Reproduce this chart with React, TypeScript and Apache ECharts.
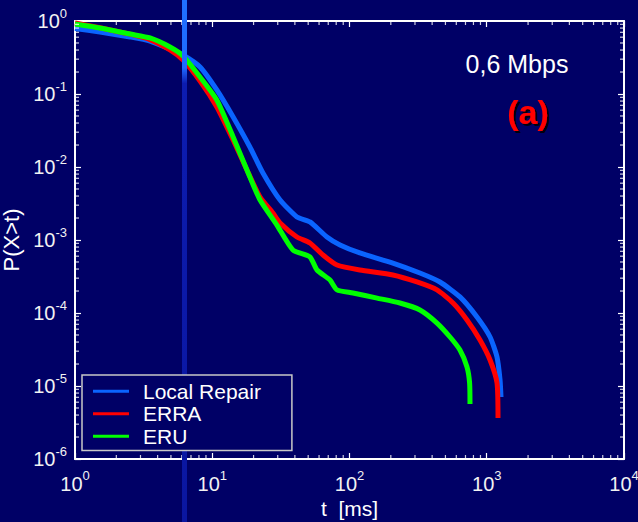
import React, { useEffect, useRef } from "react";
import * as echarts from "echarts";

// ---- Data (t in ms, P(X>t)) ----
const LOCAL_REPAIR_T = [1, 1.52, 2.52, 3.52, 4.92, 6.12, 8.15, 10.8, 14.2, 18.8, 23.4, 31.2, 41.4, 51.5, 68.5, 85.3, 119, 207, 326, 456, 638, 849, 1057, 1188, 1250, 1270];
const LOCAL_REPAIR_P = [0.79, 0.707, 0.604, 0.532, 0.413, 0.342, 0.234, 0.1135, 0.0484, 0.0188, 0.00828, 0.00353, 0.00207, 0.00177, 0.0011, 0.000855, 0.000664, 0.000484, 0.000353, 0.000266, 0.000166, 0.0000881, 0.0000469, 0.0000249, 0.0000121, 0.00000707];

const ERRA_T = [1, 1.52, 2.52, 3.52, 4.92, 6.12, 8.15, 10.8, 14.2, 17.9, 22.3, 27.7, 31.2, 41.4, 51.5, 64.1, 81.1, 119, 207, 310, 434, 568, 718, 893, 1057, 1188, 1208];
const ERRA_P = [0.94, 0.81, 0.66, 0.556, 0.401, 0.292, 0.151, 0.0664, 0.0234, 0.0091, 0.00388, 0.00234, 0.00171, 0.0011, 0.00091, 0.000623, 0.000455, 0.000388, 0.000332, 0.000266, 0.000207, 0.000137, 0.0000802, 0.0000427, 0.0000227, 0.000011, 0.00000365];

const ERU_T = [1, 1.52, 2.52, 3.52, 4.92, 6.12, 8.15, 10.8, 14.2, 18.8, 22.3, 29.6, 38.7, 51.5, 58, 72.1, 81.1, 106, 159, 233, 326, 434, 540, 638, 718, 750, 755];
const ERU_P = [0.91, 0.802, 0.663, 0.585, 0.44, 0.332, 0.171, 0.0828, 0.0258, 0.0073, 0.00353, 0.0016, 0.00073, 0.000585, 0.000388, 0.000283, 0.000207, 0.000188, 0.00016, 0.000137, 0.00011, 0.0000729, 0.0000469, 0.0000311, 0.0000182, 0.000011, 0.00000566];

const SERIES_NAMES = ["Local Repair", "ERRA", "ERU"];

// axis structure
const X_DECADES = [1, 10, 100, 1000];
const Y_DECADES = [1e-6, 1e-5, 1e-4, 1e-3, 1e-2, 1e-1];
const MINOR_MULTIPLIERS = [2, 3, 4, 5, 6, 7, 8, 9];

const FONT = "'Liberation Sans', Arial, Helvetica, sans-serif";
const BG = "#000066";

function zip(a: number[], b: number[]) {
  return a.map((v, i) => [v, b[i]]);
}

export default function App() {
  const ref = useRef<HTMLDivElement>(null);

  useEffect(() => {
    if (!ref.current) return;
    const chart = echarts.init(ref.current, undefined, { renderer: "svg" });

    const xMinor = X_DECADES.flatMap((d) => MINOR_MULTIPLIERS.map((m) => d * m));
    const yMinor = Y_DECADES.flatMap((d) => MINOR_MULTIPLIERS.map((m) => d * m));

    const labelFmt = (v: number) => {
      const e = Math.round(Math.log10(v));
      return `{b|10}{s|${e}}`;
    };
    const rich = {
      b: { fontSize: 20, color: "#f2f2f2", fontFamily: FONT },
      s: { fontSize: 13, color: "#f2f2f2", fontFamily: FONT, padding: [0, 0, 16, 0] },
    };

    const axisLine = { show: true, lineStyle: { color: "#ffffff", width: 2 } };
    const axisTick = { show: true, inside: true, length: 6, lineStyle: { color: "#ffffff", width: 1.2 } };

    const tickSeries = (data: number[][], size: number[], offset: number[]) => ({
      type: "scatter",
      data,
      symbol: "rect",
      symbolSize: size,
      symbolOffset: offset,
      itemStyle: { color: "#ffffff" },
      silent: true,
      clip: false,
      z: 3,
      xAxisIndex: 0,
      yAxisIndex: 0,
    });

    const lineSeries = (name: string, t: number[], p: number[], color: string) => ({
      name,
      type: "line",
      data: zip(t, p),
      showSymbol: false,
      symbol: "none",
      smooth: 0.2,
      lineStyle: { color, width: 5 },
      itemStyle: { color },
      xAxisIndex: 0,
      yAxisIndex: 0,
      z: 2,
    });

    chart.setOption({
      animation: false,
      backgroundColor: BG,
      grid: { left: 75, right: 14, top: 21, bottom: 63, containLabel: false, outerBoundsMode: "none" },
      legend: {
        data: SERIES_NAMES,
        orient: "vertical",
        left: 82,
        top: 375,
        z: 200,
        icon: "rect",
        itemWidth: 36,
        itemHeight: 3,
        itemGap: 0,
        padding: [5, 31, 3, 11],
        backgroundColor: BG,
        borderColor: "#c8c8c8",
        borderWidth: 1.5,
        textStyle: { color: "#ffffff", fontSize: 21, fontFamily: FONT, lineHeight: 22.5, padding: [0, 0, 0, 9] },
      },
      xAxis: [
        {
          type: "log",
          logBase: 10,
          min: 1,
          max: 10000,
          position: "bottom",
          axisLine,
          axisTick,
          splitLine: { show: false },
          axisLabel: { formatter: labelFmt, rich, margin: 10 },
          name: "t  [ms]",
          nameLocation: "middle",
          nameGap: 37,
          nameTextStyle: { color: "#ffffff", fontSize: 21, fontFamily: FONT },
        },
        {
          type: "log",
          logBase: 10,
          min: 1,
          max: 10000,
          position: "top",
          axisLine,
          axisTick,
          splitLine: { show: false },
          axisLabel: { show: false },
        },
      ],
      yAxis: [
        {
          type: "log",
          logBase: 10,
          min: 1e-6,
          max: 1,
          position: "left",
          axisLine,
          axisTick,
          splitLine: { show: false },
          axisLabel: { formatter: labelFmt, rich, margin: 8 },
          name: "P(X>t)",
          nameLocation: "middle",
          nameRotate: 90,
          nameGap: 50,
          nameTextStyle: { color: "#ffffff", fontSize: 22, fontFamily: FONT },
        },
        {
          type: "log",
          logBase: 10,
          min: 1e-6,
          max: 1,
          position: "right",
          axisLine,
          axisTick,
          splitLine: { show: false },
          axisLabel: { show: false },
        },
      ],
      series: [
        lineSeries(SERIES_NAMES[0], LOCAL_REPAIR_T, LOCAL_REPAIR_P, "#0a64ff"),
        lineSeries(SERIES_NAMES[1], ERRA_T, ERRA_P, "#ff0000"),
        lineSeries(SERIES_NAMES[2], ERU_T, ERU_P, "#00ff00"),
        tickSeries(xMinor.map((v) => [v, 1e-6]), [1.2, 4], [0, -2]),
        tickSeries(xMinor.map((v) => [v, 1]), [1.2, 4], [0, 2]),
        tickSeries(yMinor.map((v) => [1, v]), [4, 1.2], [2, 0]),
        tickSeries(yMinor.map((v) => [10000, v]), [4, 1.2], [-2, 0]),
      ],
      graphic: [
        {
          type: "rect",
          shape: { x: 182, y: 0, width: 5, height: 522 },
          z: 100,
          silent: true,
          style: {
            fill: new echarts.graphic.LinearGradient(0, 0, 0, 1, [
              { offset: 0, color: "#2070ff" },
              { offset: 0.13, color: "#1e6aff" },
              { offset: 0.16, color: "#0c1cb0" },
              { offset: 1, color: "#0a16a0" },
            ]),
          },
        },
        {
          type: "text",
          x: 517,
          y: 64,
          z: 50,
          style: {
            text: "0,6 Mbps",
            fill: "#ffffff",
            fontSize: 25,
            fontFamily: FONT,
            textAlign: "center",
            textVerticalAlign: "middle",
          },
        },
        {
          type: "text",
          x: 528,
          y: 112,
          z: 50,
          style: {
            text: "(a)",
            fill: "#ff0000",
            fontSize: 34,
            fontWeight: "bold",
            fontFamily: FONT,
            textAlign: "center",
            textVerticalAlign: "middle",
            textShadowColor: "#000010",
            textShadowOffsetX: 2,
            textShadowOffsetY: 2,
            textShadowBlur: 1,
          },
        },
      ],
    });

    return () => chart.dispose();
  }, []);

  return (
    <div
      ref={ref}
      style={{ position: "fixed", left: 0, top: 0, width: 638, height: 522 }}
    />
  );
}
